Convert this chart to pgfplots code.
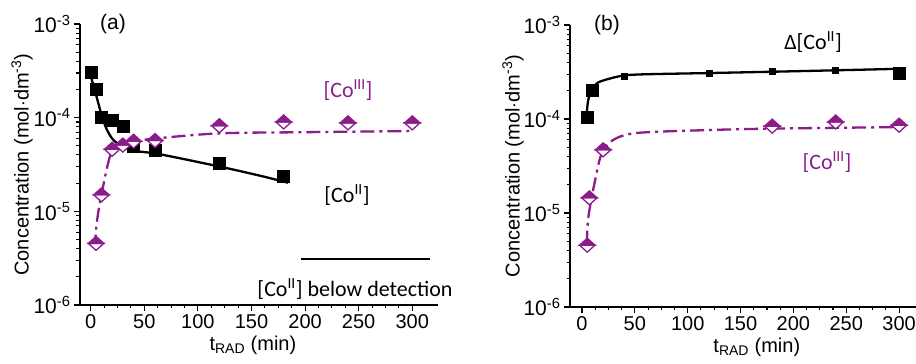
\documentclass[border=0pt]{standalone}
\usepackage{pgfplots}
\pgfplotsset{compat=1.18}
\usepackage{fontspec}
\setmainfont{Liberation Sans}
\newfontfamily\calib{Carlito}
\definecolor{cpurple}{RGB}{139,28,138}

\pgfdeclareplotmark{hdiamond}{%
  \begin{pgfscope}
  \pgfsetfillcolor{white}%
  \pgfpathmoveto{\pgfqpoint{-1.1\pgfplotmarksize}{0pt}}%
  \pgfpathlineto{\pgfqpoint{0pt}{-\pgfplotmarksize}}%
  \pgfpathlineto{\pgfqpoint{1.1\pgfplotmarksize}{0pt}}%
  \pgfpathclose
  \pgfusepathqfillstroke
  \end{pgfscope}
  \pgfpathmoveto{\pgfqpoint{-1.1\pgfplotmarksize}{0pt}}%
  \pgfpathlineto{\pgfqpoint{0pt}{\pgfplotmarksize}}%
  \pgfpathlineto{\pgfqpoint{1.1\pgfplotmarksize}{0pt}}%
  \pgfpathclose
  \pgfusepathqfillstroke
}

\pgfplotsset{
  ccsq/.style={only marks, mark=square*, mark size=6pt, black},
  ccsqs/.style={only marks, mark=square*, mark size=3pt, black},
  ccdm/.style={only marks, mark=hdiamond, mark size=7pt, cpurple, mark options={line width=1.3pt, fill=cpurple, draw=cpurple}},
  ccfitk/.style={no marks, black, line width=2.3pt, smooth, tension=0.5},
  ccfitp/.style={no marks, cpurple, line width=2.3pt, smooth, tension=0.5, dash pattern=on 14pt off 5pt on 3pt off 5pt},
}

\begin{document}
\begin{tikzpicture}[x=1pt,y=1pt]
\path[use as bounding box] (0,0) rectangle (916,364);

% ---------- panel (a)
\begin{axis}[ymode=log, ymin=1e-6, ymax=1e-3,
    scale only axis,
    axis lines=left,
    axis line style={-, line width=1.5pt},
    tick align=outside,
    major tick length=6pt, minor tick length=3.5pt,
    every tick/.style={line width=1.1pt, black},
    xtick={0,50,...,300}, minor x tick num=3,
    ytick={1e-6,1e-5,1e-4,1e-3},
    minor ytick={2e-6,3e-6,4e-6,5e-6,6e-6,7e-6,8e-6,9e-6,2e-5,3e-5,4e-5,5e-5,6e-5,7e-5,8e-5,9e-5,2e-4,3e-4,4e-4,5e-4,6e-4,7e-4,8e-4,9e-4},
    yticklabels={10\textsuperscript{-6},10\textsuperscript{-5},10\textsuperscript{-4},10\textsuperscript{-3}},
    tick label style={font=\fontsize{20}{22}\selectfont},
    yticklabel style={font=\fontsize{21}{22}\selectfont},
    /pgf/number format/assume math mode=true,
    clip=false,
    xlabel={t\textsubscript{RAD} (min)},
    ylabel={Concentration (mol$\cdot$dm\textsuperscript{-3})},
    label style={font=\fontsize{20}{22}\selectfont},
    ylabel style={at={(axis description cs:0,0.5)}, anchor=center, rotate=0, yshift=58pt},
  at={(80pt,59pt)}, anchor=south west,
  width=358pt, height=281pt, xmin=-10, xmax=324,
  xlabel style={at={(axis description cs:0.483,0)}, anchor=center, yshift=-40pt}]
\addplot[ccfitk] coordinates {(0,2.8e-4) (5.3,1.7e-4) (10,1.08e-4) (14.7,7.6e-5) (21,5.8e-5) (30,4.9e-5) (42.7,4.4e-5) (64.5,4.07e-5) (120.6,3.0e-5) (158,2.4e-5) (184,2.02e-5)};
\addplot[ccsq] coordinates {(0,3.05e-4) (5,2.0e-4) (10,1.0e-4) (20,9.3e-5) (30,8.2e-5) (40,5.0e-5) (60,4.5e-5) (120,3.3e-5) (180,2.35e-5)};
\addplot[ccfitp] coordinates {(3.7,4.0e-6) (5.3,7e-6) (7.5,1.05e-5) (10,1.5e-5) (16,3.2e-5) (21,4.6e-5) (33,5.4e-5) (61,6.0e-5) (120,6.8e-5) (200,7.0e-5) (300,7.2e-5)};
\addplot[ccdm] coordinates {(5,4.55e-6) (10,1.5e-5) (20,4.6e-5) (30,5.1e-5) (40,5.6e-5) (60,5.7e-5) (120,8.2e-5) (180,9.0e-5) (240,8.8e-5) (300,8.8e-5)};
\addplot[no marks, black, line width=2.5pt] coordinates {(196,3.1e-6) (317,3.1e-6)};
\end{axis}

% ---------- panel (b)
\begin{axis}[ymode=log, ymin=1e-6, ymax=1e-3,
    scale only axis,
    axis lines=left,
    axis line style={-, line width=1.5pt},
    tick align=outside,
    major tick length=6pt, minor tick length=3.5pt,
    every tick/.style={line width=1.1pt, black},
    xtick={0,50,...,300}, minor x tick num=3,
    ytick={1e-6,1e-5,1e-4,1e-3},
    minor ytick={2e-6,3e-6,4e-6,5e-6,6e-6,7e-6,8e-6,9e-6,2e-5,3e-5,4e-5,5e-5,6e-5,7e-5,8e-5,9e-5,2e-4,3e-4,4e-4,5e-4,6e-4,7e-4,8e-4,9e-4},
    yticklabels={10\textsuperscript{-6},10\textsuperscript{-5},10\textsuperscript{-4},10\textsuperscript{-3}},
    tick label style={font=\fontsize{20}{22}\selectfont},
    yticklabel style={font=\fontsize{21}{22}\selectfont},
    /pgf/number format/assume math mode=true,
    clip=false,
    xlabel={t\textsubscript{RAD} (min)},
    ylabel={Concentration (mol$\cdot$dm\textsuperscript{-3})},
    label style={font=\fontsize{20}{22}\selectfont},
    ylabel style={at={(axis description cs:0,0.5)}, anchor=center, yshift=57pt},
  at={(570pt,57pt)}, anchor=south west,
  width=346pt, height=282pt, xmin=-11.35, xmax=316,
  xlabel style={at={(axis description cs:0.54,0)}, anchor=center, yshift=-40pt}]
\addplot[ccsqs] coordinates {(40,2.86e-4) (120,3.06e-4) (180,3.19e-4) (240,3.32e-4)};
\addplot[ccfitk] coordinates {(4.4,1.1e-4) (5.5,1.5e-4) (7.6,1.87e-4) (12,2.25e-4) (17,2.5e-4) (36,2.86e-4) (55,2.98e-4) (118,3.08e-4) (178,3.18e-4) (241,3.3e-4) (300,3.42e-4)};
\addplot[ccsq] coordinates {(5,1.05e-4) (10,2.05e-4) (300,3.1e-4)};
\addplot[ccdm] coordinates {(5,4.55e-6) (7,1.45e-5) (20,4.7e-5) (180,8.4e-5) (240,9.3e-5) (300,8.6e-5)};
\addplot[ccfitp] coordinates {(4.5,4.6e-6) (5.5,8e-6) (7.6,1.17e-5) (12.3,2.2e-5) (18.6,4.3e-5) (29.6,6.0e-5) (51.7,7.1e-5) (114.5,7.6e-5) (178,7.9e-5) (300,8.2e-5)};
\end{axis}

% ---------- annotations
\node[font=\fontsize{21}{24}\selectfont] at (113,340) {(a)};
\node[font=\fontsize{21}{24}\selectfont] at (607,339) {(b)};
\node[font=\calib\fontsize{22}{24}\selectfont, text=cpurple] at (348,274) {[Co\textsuperscript{III}]};
\node[font=\calib\fontsize{22}{24}\selectfont] at (347,169) {[Co\textsuperscript{II}]};
\node[font=\calib\fontsize{22}{24}\selectfont] at (355,75) {[Co\textsuperscript{II}] below detection};
\node[font=\calib\fontsize{22}{24}\selectfont] at (813,322) {Δ[Co\textsuperscript{II}]};
\node[font=\calib\fontsize{22}{24}\selectfont, text=cpurple] at (827,202) {[Co\textsuperscript{III}]};
\end{tikzpicture}
\end{document}
